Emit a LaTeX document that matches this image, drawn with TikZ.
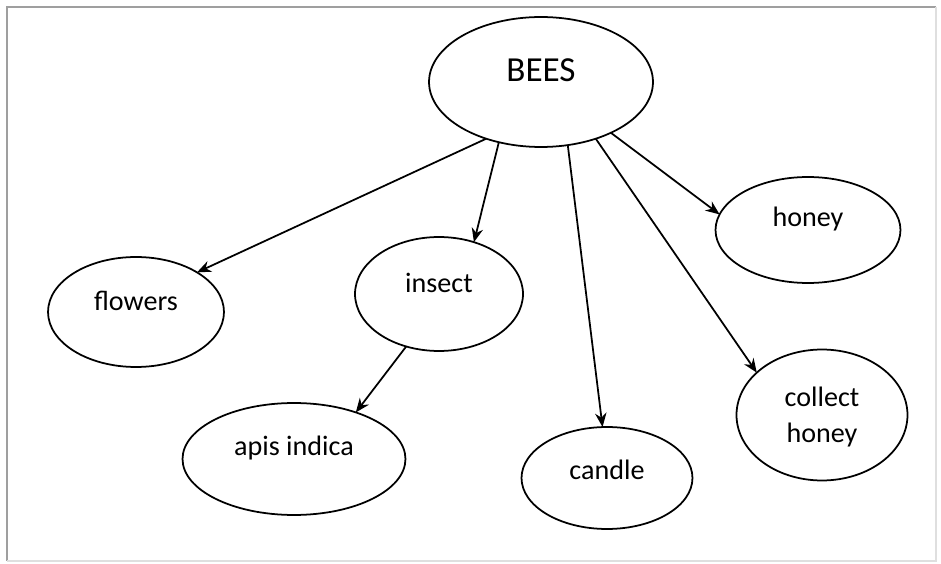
\documentclass[tikz,border=0pt]{standalone}
\usepackage{fontspec}
\setmainfont{Carlito}
\usetikzlibrary{shapes.geometric, arrows.meta}

\begin{document}
\begin{tikzpicture}[x=0.02cm, y=-0.02cm]
            \tikzstyle{Node} = [draw, ellipse, line width=1pt, inner sep=0cm, outer sep=0cm]
            \tikzstyle{Bubble} = [Node, label={[yshift=0.22cm, align=center, font=\fontsize{16}{20}\selectfont]center:#1}]
            \tikzstyle{Edge} = [line width=1pt, -{Stealth[length=8pt, width=6.5pt]}]
            \useasboundingbox (0, 0) rectangle (941, 564);
            \draw[gray!75, line width=1.6pt] (7, 561) -- (7, 7) -- (936, 7);
            \draw[gray!25, line width=1pt] (936, 7) -- (936, 561) -- (7, 561);
            \node[Node, minimum width=4.48cm, minimum height=2.6cm, label={[yshift=0.24cm, font=\fontsize{20}{24}\selectfont]center:BEES}] (bees) at (541, 82) {};
            \node[Bubble=flowers, minimum width=3.52cm, minimum height=2.2cm] (flowers) at (136, 312) {};
            \node[Bubble=insect, minimum width=3.36cm, minimum height=2.28cm] (insect) at (439, 294) {};
            \node[Bubble={apis indica}, minimum width=4.46cm, minimum height=2.24cm] (apis) at (294, 459) {};
            \node[Node, minimum width=3.42cm, minimum height=2.04cm, label={[yshift=0.17cm, font=\fontsize{16}{20}\selectfont]center:candle}] (candle) at (607, 478) {};
            \node[Bubble=honey, minimum width=3.7cm, minimum height=2.12cm] (honey) at (808, 230) {};
            \node[Node, minimum width=3.42cm, minimum height=2.62cm, label={[yshift=-0.04cm, align=center, font=\fontsize{16}{21}\selectfont]center:collect\\honey}] (collect) at (822, 415) {};
            \draw[Edge] (bees.226) -- (flowers.33);
            \draw[Edge] (bees.235) -- (insect.56);
            \draw[Edge] (bees.293) -- (candle.95);
            \draw[Edge] (bees.314) -- (collect.147);
            \draw[Edge] (bees.324) -- (honey.170);
            \draw[Edge] (insect.238) -- (apis.37);
        \end{tikzpicture}
\end{document}
